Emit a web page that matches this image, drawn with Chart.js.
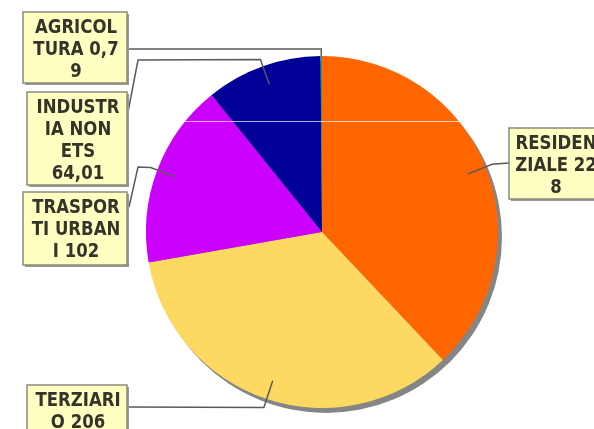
<!DOCTYPE html>
<html>
<head>
<meta charset="utf-8">
<script src="https://cdn.jsdelivr.net/npm/chart.js@4/dist/chart.umd.min.js"></script>
<style>
  html, body { margin: 0; padding: 0; background: #ffffff; }
  #wrap { width: 594px; height: 429px; position: relative; }
</style>
</head>
<body>
<div id="wrap"><canvas id="c" width="594" height="429"></canvas></div>
<script>
// ---- data ----
const categories = ['RESIDENZIALE', 'TERZIARIO', 'TRASPORTI URBANI', 'INDUSTRIA NON ETS', 'AGRICOLTURA'];
const values = [228, 206, 102, 64.01, 0.79];
const valueLabels = ['228', '206', '102', '64,01', '0,79'];
// label text as wrapped in the reference boxes
const labelLines = [
  ['RESIDEN', 'ZIALE 22', '8'],
  ['TERZIARI', 'O 206'],
  ['TRASPOR', 'TI URBAN', 'I 102'],
  ['INDUSTR', 'IA NON', 'ETS', '64,01'],
  ['AGRICOL', 'TURA 0,7', '9']
];
const colors = ['#ff6600', '#fdd962', '#cc00ff', '#000099', '#339966'];

// ---- layout of callout boxes (positions only) ----
const boxes = [
  { x: 509, y: 128, w: 92, h: 71, path: [[509, 163]] },
  { x: 27, y: 385, w: 100, h: 60, path: [[127, 407]] },
  { x: 23, y: 192, w: 104, h: 73, path: [[138, 167], [129, 207]] },
  { x: 27, y: 92, w: 100, h: 93, path: [[138, 60], [128, 112]] },
  { x: 23, y: 12, w: 104, h: 71, path: [[127, 49]] }
];
const innerR = [0.89, 0.89, 0.89, 0.89, 1.0];
const elbowR = [1.04, 1.05, 1.04, 1.04, 1.04];

const shadowPlugin = {
  id: 'pieShadow',
  beforeDatasetsDraw(chart) {
    const arc = chart.getDatasetMeta(0).data[0];
    if (!arc) return;
    const ctx = chart.ctx;
    ctx.save();
    ctx.fillStyle = '#858585';
    ctx.beginPath();
    ctx.arc(arc.x + 4, arc.y + 5, arc.outerRadius, 0, Math.PI * 2);
    ctx.fill();
    ctx.restore();
  }
};

const calloutPlugin = {
  id: 'callouts',
  afterDatasetsDraw(chart) {
    const meta = chart.getDatasetMeta(0);
    const ctx = chart.ctx;
    ctx.save();
    // leader lines
    meta.data.forEach((arc, i) => {
      const mid = (arc.startAngle + arc.endAngle) / 2;
      const R = arc.outerRadius;
      const p = r => [arc.x + r * Math.cos(mid), arc.y + r * Math.sin(mid)];
      const a = p(R * innerR[i]);
      const e = p(R * elbowR[i]);
      ctx.strokeStyle = '#5a5a5a';
      ctx.lineWidth = 1.5;
      ctx.beginPath();
      ctx.moveTo(a[0], a[1]);
      ctx.lineTo(e[0], e[1]);
      boxes[i].path.forEach(q => ctx.lineTo(q[0], q[1]));
      ctx.stroke();
    });
    // scan artifact line
    ctx.strokeStyle = 'rgba(255,255,255,0.7)';
    ctx.lineWidth = 1;
    ctx.beginPath();
    ctx.moveTo(115, 121.5);
    ctx.lineTo(515, 121.5);
    ctx.stroke();
    // boxes
    meta.data.forEach((arc, i) => {
      const b = boxes[i];
      ctx.fillStyle = '#9a9a90';
      ctx.fillRect(b.x + 2, b.y + 2, b.w, b.h);
      ctx.fillStyle = '#ffffc2';
      ctx.fillRect(b.x, b.y, b.w, b.h);
      ctx.strokeStyle = '#8a8a7c';
      ctx.lineWidth = 1.5;
      ctx.strokeRect(b.x, b.y, b.w, b.h);
      ctx.fillStyle = '#34342a';
      ctx.font = 'bold 19px "DejaVu Sans", sans-serif';
      ctx.textAlign = 'center';
      ctx.textBaseline = 'alphabetic';
      const cx = b.x + b.w / 2 + 1;
      labelLines[i].forEach((t, k) => {
        ctx.save();
        ctx.translate(cx, b.y + 20.5 + k * 22);
        ctx.scale(0.87, 1);
        ctx.fillText(t, 0, 0);
        ctx.restore();
      });
    });
    ctx.restore();
  }
};

new Chart(document.getElementById('c'), {
  type: 'pie',
  data: {
    labels: categories,
    datasets: [{
      data: values,
      backgroundColor: colors,
      borderWidth: 0,
      hoverOffset: 0
    }]
  },
  options: {
    responsive: false,
    animation: false,
    events: [],
    layout: { padding: { left: 100, right: 50, top: 56, bottom: 21 } },
    plugins: {
      legend: { display: false },
      tooltip: { enabled: false },
      title: { display: false }
    }
  },
  plugins: [shadowPlugin, calloutPlugin]
});
</script>
</body>
</html>
